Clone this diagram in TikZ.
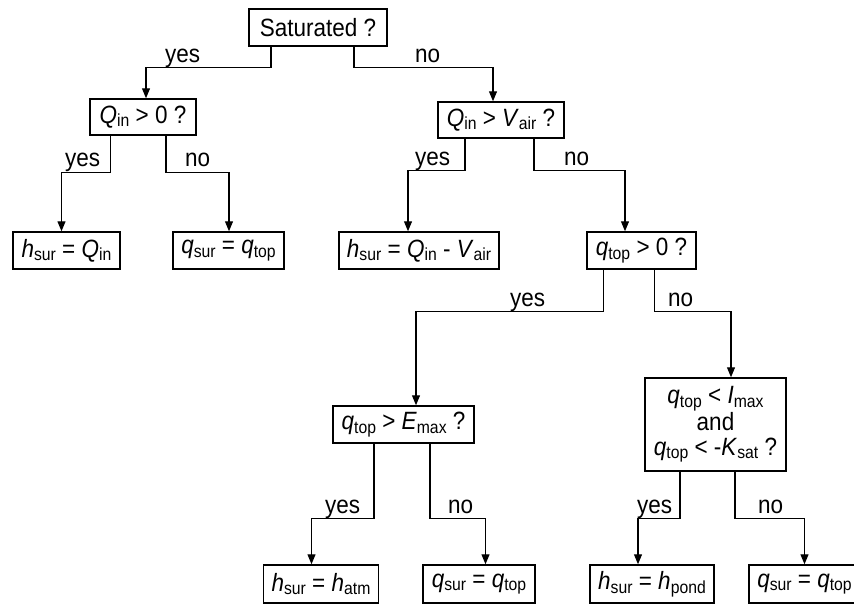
\documentclass[tikz,border=0pt]{standalone}
\usepackage{fontspec}
\setmainfont{Liberation Sans}[FakeStretch=0.9]
\usetikzlibrary{arrows.meta,calc}
\newcommand\sv[2]{\textit{#1}\raisebox{-3.5pt}{\fontsize{17.5}{17.5}\selectfont #2}}
\begin{document}
\begin{tikzpicture}[x=1pt,y=-1pt,
 box/.style={draw,line width=1.5pt,inner sep=0pt,align=center,font=\fontsize{25}{25}\selectfont},
 lbl/.style={anchor=base west,inner sep=0pt,font=\fontsize{25}{25}\selectfont},
 arr/.style={line width=1.2pt,-{Triangle[length=10pt,width=8pt]}}]
\useasboundingbox (0,0) rectangle (854,606);
% decision boxes
\node[box,minimum width=138pt,minimum height=37pt] (sat) at (318,27.5) {Saturated ?};
\node[box,minimum width=106pt,minimum height=36pt] (q1) at (143,117) {\sv{Q}{in} > 0 ?};
\node[box,minimum width=126pt,minimum height=36pt] (qv) at (501,120) {\sv{Q}{in} > \sv{V}{air} ?};
\node[box,minimum width=109pt,minimum height=37pt] (qt) at (641.5,250.5) {\sv{q}{top} > 0 ?};
\node[box,minimum width=141pt,minimum height=37pt] (em) at (403.5,424.5) {\sv{q}{top} > \sv{E}{max} ?};
\node[box,minimum width=141pt,minimum height=93pt] (big) at (715.5,424.5) {\sv{q}{top} < \sv{I}{max}\\and\\\sv{q}{top} < -\sv{K}{sat} ?};
% result boxes
\node[box,minimum width=107pt,minimum height=37pt] (ra) at (66.5,250.5) {\sv{h}{sur} = \sv{Q}{in}};
\node[box,minimum width=111pt,minimum height=37pt] (rb) at (228.5,250.5) {\sv{q}{sur} = \sv{q}{top}};
\node[box,minimum width=160pt,minimum height=37pt] (rc) at (419,250.5) {\sv{h}{sur} = \sv{Q}{in} - \sv{V}{air}};
\node[box,minimum width=115pt,minimum height=38pt] (rd) at (321,584) {\sv{h}{sur} = \sv{h}{atm}};
\node[box,minimum width=112pt,minimum height=38pt] (re) at (479,584) {\sv{q}{sur} = \sv{q}{top}};
\node[box,minimum width=124pt,minimum height=38pt] (rf) at (652,584) {\sv{h}{sur} = \sv{h}{pond}};
\node[box,minimum width=111pt,minimum height=38pt] (rg) at (804.5,584) {\sv{q}{sur} = \sv{q}{top}};
% connectors
\draw[arr] ($(sat.south)+(-47,0)$) -- ++(0,21) -| ($(q1.north)+(3,0)$);
\draw[arr] ($(sat.south)+(36,0)$) -- ++(0,21) -| ($(qv.north)+(-8,0)$);
\draw[arr] ($(q1.south)+(-32.5,0)$) -- ++(0,37) -| ($(ra.north)+(-5,0)$);
\draw[arr] ($(q1.south)+(23,0)$) -- ++(0,37) -| ($(rb.north)+(0.5,0)$);
\draw[arr] ($(qv.south)+(-36,0)$) -- ++(0,31.5) -| ($(rc.north)+(-11,0)$);
\draw[arr] ($(qv.south)+(33,0)$) -- ++(0,31.5) -| ($(qt.north)+(-16.5,0)$);
\draw[arr] ($(qt.south)+(-38,0)$) -- ++(0,41.7) -| ($(em.north)+(12.5,0)$);
\draw[arr] ($(qt.south)+(13,0)$) -- ++(0,41.7) -| ($(big.north)+(15.5,0)$);
\draw[arr] ($(em.south)+(-29.5,0)$) -- ++(0,74.7) -| ($(rd.north)+(-9.5,0)$);
\draw[arr] ($(em.south)+(26.5,0)$) -- ++(0,74.7) -| ($(re.north)+(6.5,0)$);
\draw[arr] ($(big.south)+(-35.5,0)$) -- ++(0,46.7) -| ($(rf.north)+(-14,0)$);
\draw[arr] ($(big.south)+(19.5,0)$) -- ++(0,46.7) -| ($(rg.north)+(0,0)$);
% labels
\node[lbl] (l1) at (165,62) {yes};
\node[lbl] (l2) at (415,62) {no};
\node[lbl] (l3) at (65,166) {yes};
\node[lbl] (l4) at (185,166) {no};
\node[lbl] (l5) at (415,165) {yes};
\node[lbl] (l6) at (564,165) {no};
\node[lbl] (l7) at (510,306) {yes};
\node[lbl] (l8) at (668,306) {no};
\node[lbl] (l9) at (325,513) {yes};
\node[lbl] (l10) at (448,513) {no};
\node[lbl] (l11) at (637,513) {yes};
\node[lbl] (l12) at (758,513) {no};
\end{tikzpicture}
\end{document}
